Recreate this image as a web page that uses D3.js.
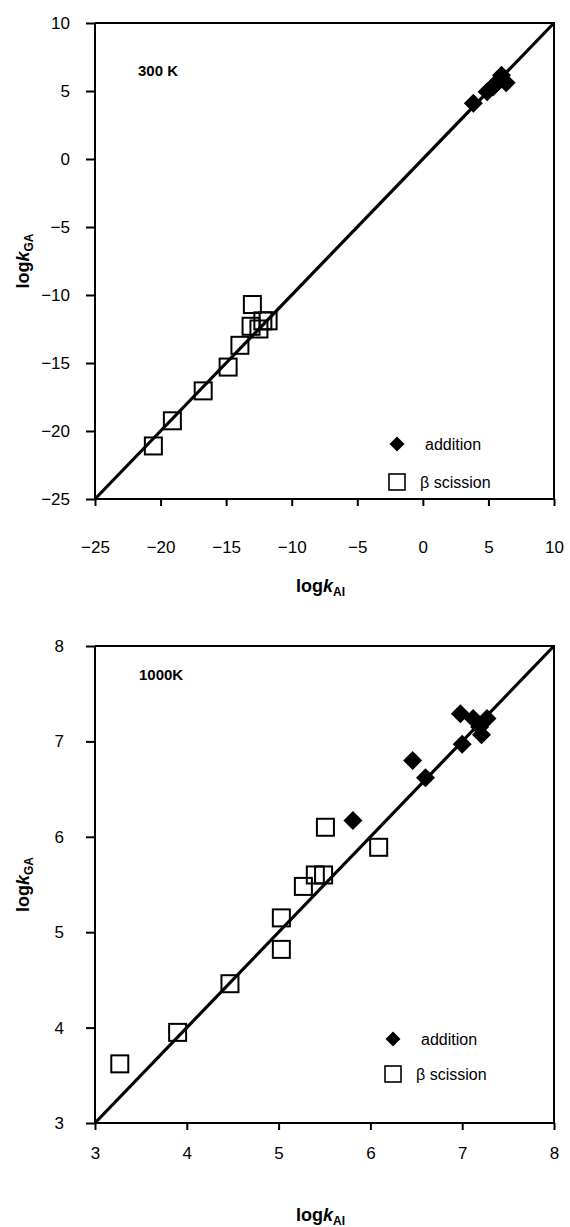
<!DOCTYPE html>
<html>
<head>
<meta charset="utf-8">
<script src="https://cdn.jsdelivr.net/npm/d3@7"></script>
<style>
  html, body { margin: 0; padding: 0; background: #fff; }
  svg { display: block; font-family: "Liberation Sans", Arial, sans-serif; }
</style>
</head>
<body>
<svg id="chart" width="570" height="1227"></svg>
<script>
// ---- 300 K panel ----
const ticks300 = [-25, -20, -15, -10, -5, 0, 5, 10];
const additionX300 = [3.85, 4.9, 5.35, 5.75, 6.0, 6.35, 5.5];
const additionY300 = [4.1, 4.95, 5.3, 5.7, 6.15, 5.6, 5.5];
const scissionX300 = [-20.55, -19.1, -16.75, -14.85, -13.95, -13.0, -13.1, -12.5, -12.2, -11.8];
const scissionY300 = [-21.1, -19.25, -17.05, -15.3, -13.7, -10.7, -12.3, -12.5, -11.9, -11.9];

// ---- 1000 K panel ----
const ticks1000 = [3, 4, 5, 6, 7, 8];
const additionX1000 = [5.81, 6.46, 6.60, 7.00, 6.98, 7.12, 7.19, 7.27, 7.21];
const additionY1000 = [6.17, 6.80, 6.62, 6.97, 7.29, 7.24, 7.15, 7.24, 7.07];
const scissionX1000 = [3.27, 3.90, 4.47, 5.03, 5.03, 5.27, 5.40, 5.49, 5.51, 6.09];
const scissionY1000 = [3.62, 3.95, 4.46, 4.82, 5.15, 5.48, 5.60, 5.60, 6.10, 5.89];

const legendLabels = ["addition", "\u03b2 scission"];

const svg = d3.select("#chart");
const zip = (xs, ys) => xs.map((x, i) => ({ x, y: ys[i] }));
const fmt = d => d3.format("d")(d).replace("-", "\u2212");

function axisTitle(t, sub) {
  t.append("tspan").text("log");
  t.append("tspan").attr("font-style", "italic").text("k");
  t.append("tspan").attr("font-size", 12).attr("dy", 4).text(sub);
}

function panel(opt) {
  const x = d3.scaleLinear().domain(opt.domain).range([opt.left, opt.right]);
  const y = d3.scaleLinear().domain(opt.domain).range([opt.bottom, opt.top]);
  const g = svg.append("g");

  // frame: top and right edges
  g.append("path")
    .attr("d", `M${opt.left},${opt.top}H${opt.right}V${opt.bottom}`)
    .attr("fill", "none").attr("stroke", "#000").attr("stroke-width", 2);

  // parity line y = x
  g.append("line")
    .attr("x1", x(opt.domain[0])).attr("y1", y(opt.domain[0]))
    .attr("x2", x(opt.domain[1])).attr("y2", y(opt.domain[1]))
    .attr("stroke", "#000").attr("stroke-width", 3.2);

  // axes
  const xAxis = d3.axisBottom(x).tickValues(opt.ticks).tickSize(7).tickPadding(opt.xPad).tickFormat(fmt);
  const yAxis = d3.axisLeft(y).tickValues(opt.ticks).tickSize(9).tickPadding(opt.yPad).tickFormat(fmt);

  const gx = g.append("g").attr("transform", `translate(0,${opt.bottom})`).call(xAxis);
  const gy = g.append("g").attr("transform", `translate(${opt.left},0)`).call(yAxis);
  [gx, gy].forEach(a => {
    a.select(".domain").remove();
    a.selectAll(".tick line").attr("stroke-width", 2);
    a.selectAll(".tick text").attr("font-size", 17).attr("fill", "#000")
      .attr("font-family", "Liberation Sans, Arial, sans-serif");
  });
  g.append("line").attr("x1", opt.left).attr("x2", opt.right)
    .attr("y1", opt.bottom).attr("y2", opt.bottom).attr("stroke", "#000").attr("stroke-width", 2);
  g.append("line").attr("x1", opt.left).attr("x2", opt.left)
    .attr("y1", opt.top).attr("y2", opt.bottom).attr("stroke", "#000").attr("stroke-width", 2);

  // beta scission: open squares
  const s = opt.square;
  g.append("g").selectAll("rect").data(zip(opt.sx, opt.sy)).join("rect")
    .attr("x", d => x(d.x) - s / 2).attr("y", d => y(d.y) - s / 2)
    .attr("width", s).attr("height", s)
    .attr("fill", "none").attr("stroke", "#000").attr("stroke-width", 2);

  // addition: filled diamonds
  const r = opt.diamond;
  const diamond = `M0,${-r}L${r},0L0,${r}L${-r},0Z`;
  g.append("g").selectAll("path").data(zip(opt.ax, opt.ay)).join("path")
    .attr("transform", d => `translate(${x(d.x)},${y(d.y)})`)
    .attr("d", diamond).attr("fill", "#000");

  // legend
  const lg = g.append("g");
  lg.append("path").attr("transform", `translate(${opt.legX},${opt.legY[0]})`)
    .attr("d", "M0,-7.5L7.5,0L0,7.5L-7.5,0Z").attr("fill", "#000");
  lg.append("rect").attr("x", opt.legX - 8).attr("y", opt.legY[1] - 8)
    .attr("width", 16).attr("height", 16)
    .attr("fill", "none").attr("stroke", "#000").attr("stroke-width", 1.6);
  lg.append("text").attr("x", opt.legX + 28).attr("y", opt.legY[0] + 6)
    .attr("font-size", 16).text(legendLabels[0]);
  lg.append("text").attr("x", opt.legX + 23).attr("y", opt.legY[1] + 6)
    .attr("font-size", 16).text(legendLabels[1]);

  // panel label
  g.append("text").attr("x", opt.labelX).attr("y", opt.labelY)
    .attr("font-size", 15).attr("font-weight", "bold").text(opt.label);

  // axis titles
  const xt = g.append("text").attr("x", (opt.left + opt.right) / 2 - 4).attr("y", opt.xTitleY)
    .attr("text-anchor", "middle").attr("font-size", 18).attr("font-weight", "bold");
  axisTitle(xt, "AI");
  const cy = (opt.top + opt.bottom) / 2;
  const yt = g.append("text").attr("transform", `translate(${opt.yTitleX},${cy}) rotate(-90)`)
    .attr("text-anchor", "middle").attr("font-size", 18).attr("font-weight", "bold");
  axisTitle(yt, "GA");
}

panel({
  domain: [-25, 10], ticks: ticks300,
  left: 95, right: 554, top: 23, bottom: 499,
  xPad: 35, yPad: 16,
  ax: additionX300, ay: additionY300, sx: scissionX300, sy: scissionY300,
  square: 17, diamond: 9.5,
  legX: 397, legY: [444, 482],
  label: "300 K", labelX: 138, labelY: 76,
  xTitleY: 592, yTitleX: 29
});

panel({
  domain: [3, 8], ticks: ticks1000,
  left: 95, right: 554, top: 646, bottom: 1123,
  xPad: 17, yPad: 22,
  ax: additionX1000, ay: additionY1000, sx: scissionX1000, sy: scissionY1000,
  square: 17, diamond: 9.5,
  legX: 393, legY: [1039, 1074],
  label: "1000K", labelX: 139, labelY: 680,
  xTitleY: 1221, yTitleX: 29
});
</script>
</body>
</html>
